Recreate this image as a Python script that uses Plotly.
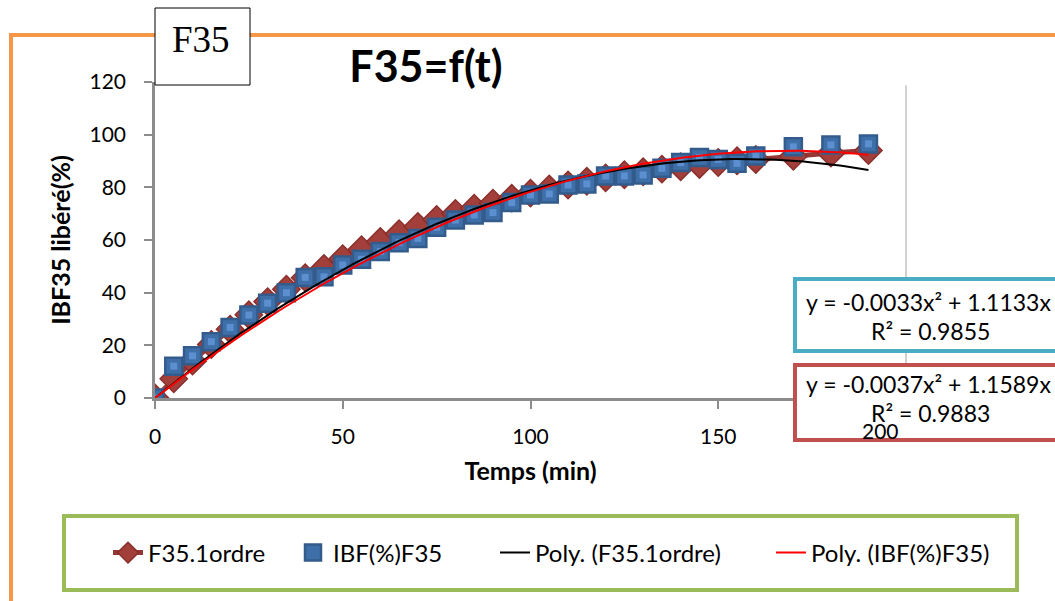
import numpy as np
import plotly.graph_objects as go

# Sampling times (min)
t_min = [0, 5, 10, 15, 20, 25, 30, 35, 40, 45, 50, 55, 60, 65, 70, 75, 80, 85,
         90, 95, 100, 105, 110, 115, 120, 125, 130, 135, 140, 145, 150, 155,
         160, 170, 180, 190]

# First-order model values (%)
f35_1ordre = [0.0, 7.3, 14.0, 20.3, 26.1, 31.6, 36.6, 41.3, 45.7, 49.2, 52.9,
              56.3, 59.4, 62.4, 65.1, 67.8, 70.1, 72.1, 74.0, 75.9, 77.8, 79.4,
              80.9, 82.3, 83.6, 84.8, 85.9, 86.9, 87.8, 88.7, 89.4, 90.1, 90.6,
              91.8, 93.0, 94.0]

# Measured IBF release (%)
ibf_f35 = [0.0, 12.1, 16.0, 21.4, 26.8, 31.5, 36.0, 40.0, 45.8, 46.0, 50.5,
           52.7, 55.6, 59.0, 60.6, 64.8, 67.6, 69.5, 70.4, 74.2, 77.1, 77.5,
           80.9, 81.3, 84.3, 84.3, 84.7, 87.2, 89.4, 91.3, 90.6, 89.1, 91.9,
           95.4, 96.1, 96.5]

# Quadratic trend coefficients (x^2, x, const) and R^2
poly_1ordre = [-0.0037, 1.1589, 0.0]
r2_1ordre = 0.9883
poly_ibf = [-0.0033, 1.1133, 0.0]
r2_ibf = 0.9855

x_ticks = [0, 50, 100, 150, 200]
x_ticktext = ["0", "50", "100", "150", ""]
y_ticks = [0, 20, 40, 60, 80, 100, 120]

W, H = 1055, 601
L, R, T, B = 155, 906, 82, 398  # plot area in pixels


def px(x):
    return (x - L) / (R - L)


def py(y):
    return (B - y) / (B - T)


FONT = "Lato"
LEG_FONT = dict(family=FONT, size=24, color="#000")

t_fit = np.linspace(min(t_min), max(t_min), 200)
fit_1ordre = np.polyval(poly_1ordre, t_fit)
fit_ibf = np.polyval(poly_ibf, t_fit)

fig = go.Figure()

fig.add_trace(go.Scatter(
    x=t_min, y=f35_1ordre, name="F35.1ordre", mode="lines+markers",
    line=dict(color="#953735", width=5),
    marker=dict(symbol="diamond", size=21, color="#a23f3b",
                line=dict(color="#8a2f2c", width=1.5)),
    legend="legend",
))
fig.add_trace(go.Scatter(
    x=t_min, y=ibf_f35, name="IBF(%)F35", mode="markers",
    marker=dict(symbol="square", size=17, color="#3f6fa8",
                line=dict(color="#335c8c", width=2.5)),
    legend="legend2",
))
fig.add_trace(go.Scatter(
    x=t_min, y=ibf_f35, mode="markers", showlegend=False, hoverinfo="skip",
    marker=dict(symbol="square", size=7, color="#5b8fd0"),
))
fig.add_trace(go.Scatter(
    x=t_fit, y=fit_1ordre, name="Poly. (F35.1ordre)", mode="lines",
    line=dict(color="#000000", width=2),
    legend="legend3",
))
fig.add_trace(go.Scatter(
    x=t_fit, y=fit_ibf, name="Poly. (IBF(%)F35)", mode="lines",
    line=dict(color="#ff0000", width=2),
    legend="legend4",
))

shapes = [
    # outer orange frame
    dict(type="rect", xref="paper", yref="paper",
         x0=px(11), x1=px(1080), y0=py(35), y1=py(640),
         line=dict(color="#f79646", width=4), fillcolor="rgba(0,0,0,0)",
         layer="below"),
    # right border of the plot area
    dict(type="line", xref="x domain", yref="y domain", x0=1, x1=1, y0=0, y1=0.99,
         line=dict(color="#d0d0d0", width=2), layer="below"),
    # F35 label box
    dict(type="rect", xref="paper", yref="paper",
         x0=px(155), x1=px(250), y0=py(85), y1=py(8),
         line=dict(color="#000000", width=1), fillcolor="white", layer="above"),
    # trend equation boxes
    dict(type="rect", xref="paper", yref="paper",
         x0=px(795), x1=px(1080), y0=py(351), y1=py(279),
         line=dict(color="#4bacc6", width=4), fillcolor="white", layer="above"),
    dict(type="rect", xref="paper", yref="paper",
         x0=px(795), x1=px(1080), y0=py(440), y1=py(365),
         line=dict(color="#c0504d", width=4), fillcolor="white", layer="above"),
    # legend frame
    dict(type="rect", xref="paper", yref="paper",
         x0=px(64), x1=px(1017), y0=py(590), y1=py(516),
         line=dict(color="#9bbb59", width=4), fillcolor="white", layer="below"),
]

eq_font = dict(family=FONT, size=23, color="#000")
annotations = [
    dict(text="F35", xref="paper", yref="paper", x=px(201), y=py(40),
         xanchor="center", yanchor="middle", showarrow=False,
         font=dict(family="Liberation Serif", size=37, color="#000")),
    dict(text=f"y = {poly_ibf[0]}x² + {poly_ibf[1]}x", xref="paper", yref="paper",
         x=px(804), y=py(302), xanchor="left", yanchor="middle", showarrow=False,
         font=eq_font),
    dict(text=f"R² = {r2_ibf}", xref="paper", yref="paper",
         x=px(930), y=py(331), xanchor="center", yanchor="middle", showarrow=False,
         font=eq_font),
    dict(text=f"y = {poly_1ordre[0]}x² + {poly_1ordre[1]}x", xref="paper", yref="paper",
         x=px(804), y=py(384), xanchor="left", yanchor="middle", showarrow=False,
         font=eq_font),
    dict(text=f"R² = {r2_1ordre}", xref="paper", yref="paper",
         x=px(930), y=py(413), xanchor="center", yanchor="middle", showarrow=False,
         font=eq_font),
    # last x tick label, nudged left as in the original layout
    dict(text=str(x_ticks[-1]), xref="x", yref="paper", x=x_ticks[-1], y=py(430),
         xshift=-26, xanchor="center", yanchor="middle", showarrow=False,
         font=dict(family=FONT, size=21, color="#000")),
]


def legend_at(text_left):
    return dict(orientation="h", xref="container", yref="container",
                x=(text_left - 42) / W, y=1 - 553 / H, xanchor="left",
                yanchor="middle", font=LEG_FONT, bgcolor="rgba(0,0,0,0)",
                itemsizing="trace")


fig.update_layout(
    width=W, height=H,
    margin=dict(l=L, r=W - R, t=T, b=H - B),
    paper_bgcolor="white", plot_bgcolor="white",
    title=dict(text="<b>F35=f(t)</b>", xref="container", yref="container",
               x=426 / W, y=1 - 67 / H, xanchor="center", yanchor="middle",
               font=dict(family=FONT, size=43, color="#000")),
    font=dict(family=FONT, color="#000"),
    showlegend=True,
    legend=legend_at(150),
    legend2=legend_at(335),
    legend3=legend_at(537),
    legend4=legend_at(813),
    shapes=shapes,
    annotations=annotations,
)

fig.update_xaxes(
    range=[0, 200], tickvals=x_ticks, ticktext=x_ticktext,
    showgrid=False, zeroline=False,
    showline=True, linecolor="#8c8c8c", linewidth=2.5,
    ticks="outside", ticklen=8, tickcolor="#8c8c8c", tickwidth=1.5,
    tickfont=dict(family=FONT, size=21, color="#000"), ticklabelstandoff=10,
    title=dict(text="<b>Temps (min)</b>", standoff=16,
               font=dict(family=FONT, size=25, color="#000")),
)
fig.update_yaxes(
    range=[0, 120], tickvals=y_ticks,
    showgrid=False, zeroline=False,
    showline=True, linecolor="#8c8c8c", linewidth=2.5,
    ticks="outside", ticklen=8, tickcolor="#8c8c8c", tickwidth=1.5,
    tickfont=dict(family=FONT, size=21, color="#000"), ticklabelstandoff=14,
    title=dict(text="<b>IBF35 libéré(%)</b>", standoff=12,
               font=dict(family=FONT, size=25, color="#000")),
)

fig.write_html("out.html")
